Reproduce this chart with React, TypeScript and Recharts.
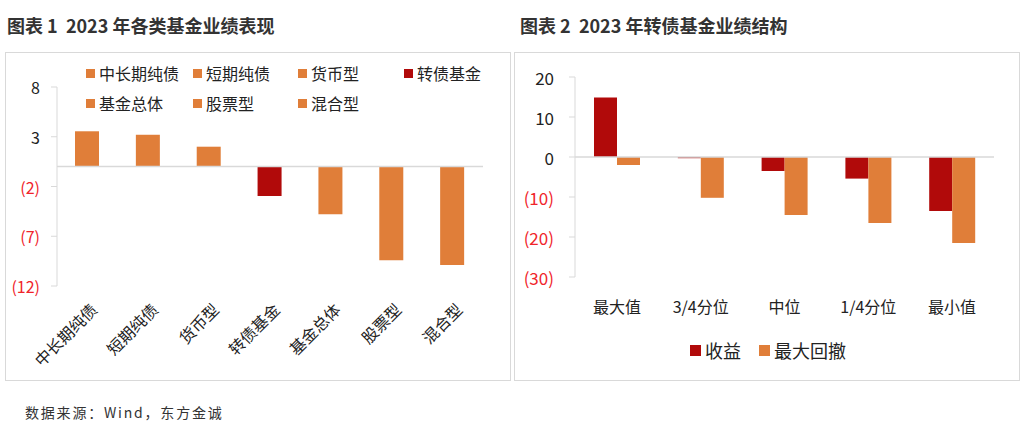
import React from 'react';
import { BarChart, Bar, XAxis, YAxis, Cell, ReferenceLine } from 'recharts';

const categories1 = ['中长期纯债', '短期纯债', '货币型', '转债基金', '基金总体', '股票型', '混合型'];
const values1 = [3.55, 3.2, 2.0, -2.95, -4.8, -9.4, -9.9];
const ticks1 = [8, 3, -2, -7, -12];
const highlight1 = '转债基金';

const categories2 = ['最大值', '3/4分位', '中位', '1/4分位', '最小值'];
const returns2 = [14.9, -0.3, -3.5, -5.4, -13.5];
const drawdown2 = [-2.0, -10.2, -14.5, -16.5, -21.5];
const ticks2 = [20, 10, 0, -10, -20, -30];
const seriesNames2 = ['收益', '最大回撤'];

const title1 = '图表 1  2023 年各类基金业绩表现';
const title2 = '图表 2  2023 年转债基金业绩结构';
const source = '数据来源：Wind，东方金诚';

const ORANGE = '#E07E39';
const RED = '#B10A0A';
const NEG = '#F0242A';
const TXT = '#222';
const GRID = '#D9D9D9';
const FONT = '"Noto Sans CJK SC", "Noto Sans", sans-serif';

const data1 = categories1.map((c, i) => ({ name: c, value: values1[i] }));
const data2 = categories2.map((c, i) => ({ name: c, ret: returns2[i], dd: drawdown2[i] }));

const fmt = (v: number) => (v < 0 ? `(${Math.abs(v)})` : `${v}`);

const YTick = (dx: number, size: number) => (props: any) => {
  const { x, y, payload } = props;
  const v = payload.value as number;
  return (
    <text x={x + dx} y={y} textAnchor="end" dominantBaseline="central" fontSize={size} fill={v < 0 ? NEG : TXT} fontFamily={FONT}>
      {fmt(v)}
    </text>
  );
};

const XTick1 = (props: any) => {
  const { x, y, payload } = props;
  const ax = x + 6;
  const ay = y + 12;
  return (
    <text x={ax} y={ay} textAnchor="end" dominantBaseline="central" fontSize={16} fill={TXT} fontFamily={FONT} transform={`rotate(-45 ${ax} ${ay})`}>
      {payload.value}
    </text>
  );
};

const XTick2 = (props: any) => {
  const { x, y, payload } = props;
  return (
    <text x={x} y={y + 21} textAnchor="middle" dominantBaseline="central" fontSize={16} fill={TXT} fontFamily={FONT}>
      {payload.value}
    </text>
  );
};

const Sq = ({ color, size }: { color: string; size: number }) => (
  <span style={{ display: 'inline-block', width: size, height: size, background: color, marginRight: 4 }} />
);

export default function App() {
  const legend1Pos = [
    [86, 73], [193, 73], [298, 73], [404, 73],
    [86, 103], [193, 103], [298, 103],
  ];
  return (
    <div style={{ position: 'absolute', left: 0, top: 0, width: 1024, height: 429, background: '#fff', fontFamily: FONT, color: TXT, overflow: 'hidden' }}>
      <div style={{ position: 'absolute', left: 7, top: 12, fontSize: 18, fontWeight: 700, color: '#333', whiteSpace: 'pre', lineHeight: '26px' }}>{title1}</div>
      <div style={{ position: 'absolute', left: 520, top: 12, fontSize: 18, fontWeight: 700, color: '#333', whiteSpace: 'pre', lineHeight: '26px' }}>{title2}</div>

      <div style={{ position: 'absolute', left: 5, top: 52, width: 504, height: 327, border: `1.5px solid ${GRID}` }} />
      <div style={{ position: 'absolute', left: 514, top: 52, width: 504, height: 327, border: `1.5px solid ${GRID}` }} />

      <div style={{ position: 'absolute', left: 5, top: 52 }}>
        <BarChart width={505} height={328} data={data1} margin={{ top: 35, right: 27, bottom: 0, left: 0 }}>
          <YAxis
            type="number"
            domain={[-12, 8]}
            ticks={ticks1}
            interval={0}
            width={52}
            axisLine={{ stroke: GRID }}
            tickLine={{ stroke: GRID }}
            tickSize={6}
            tick={YTick(-9, 16)}
          />
          <XAxis dataKey="name" height={94} axisLine={false} tickLine={false} interval={0} tick={XTick1} />
          <ReferenceLine y={0} stroke={GRID} strokeWidth={1.5} />
          <Bar dataKey="value" barSize={24} isAnimationActive={false}>
            {data1.map((d) => (
              <Cell key={d.name} fill={d.name === highlight1 ? RED : ORANGE} />
            ))}
          </Bar>
        </BarChart>
      </div>

      {categories1.map((c, i) => (
        <div key={c} style={{ position: 'absolute', left: legend1Pos[i][0], top: legend1Pos[i][1] - 12, height: 24, display: 'flex', alignItems: 'center', fontSize: 16, whiteSpace: 'nowrap' }}>
          <Sq color={c === highlight1 ? RED : ORANGE} size={9} />
          <span>{c}</span>
        </div>
      ))}

      <div style={{ position: 'absolute', left: 514, top: 52 }}>
        <BarChart width={505} height={328} data={data2} margin={{ top: 25, right: 25, bottom: 0, left: 0 }} barGap={0}>
          <YAxis
            type="number"
            domain={[-30, 20]}
            ticks={ticks2}
            interval={0}
            width={61}
            axisLine={{ stroke: GRID }}
            tickLine={{ stroke: GRID }}
            tickSize={6}
            tick={YTick(-13, 17)}
          />
          <XAxis dataKey="name" height={103} axisLine={false} tickLine={false} interval={0} tick={XTick2} />
          <ReferenceLine y={0} stroke={GRID} strokeWidth={1.5} />
          <Bar dataKey="ret" name={seriesNames2[0]} fill={RED} barSize={23} isAnimationActive={false} />
          <Bar dataKey="dd" name={seriesNames2[1]} fill={ORANGE} barSize={23} isAnimationActive={false} />
        </BarChart>
      </div>

      <div style={{ position: 'absolute', left: 690, top: 338, height: 24, display: 'flex', alignItems: 'center', fontSize: 18, whiteSpace: 'nowrap' }}>
        <Sq color={RED} size={11} />
        <span style={{ marginRight: 18 }}>{seriesNames2[0]}</span>
        <Sq color={ORANGE} size={11} />
        <span>{seriesNames2[1]}</span>
      </div>

      <div style={{ position: 'absolute', left: 25, top: 401, fontSize: 14, letterSpacing: 1.8, color: '#333', whiteSpace: 'nowrap', lineHeight: '22px' }}>{source}</div>
    </div>
  );
}
